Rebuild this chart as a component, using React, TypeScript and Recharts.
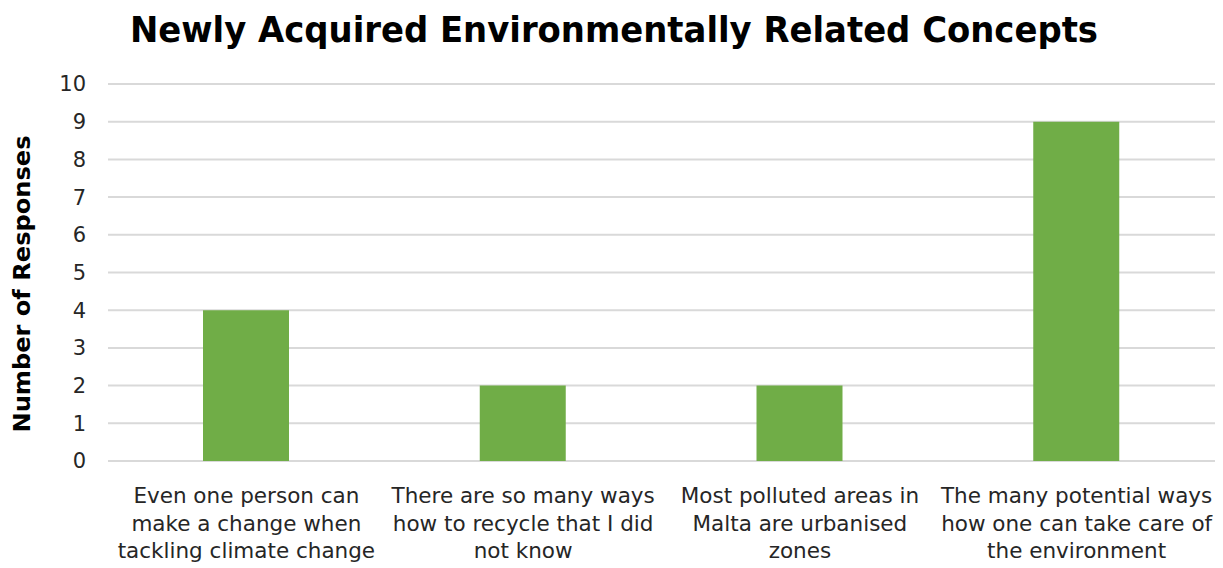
import React from "react";
import { BarChart, Bar, XAxis, YAxis, CartesianGrid } from "recharts";

const categories: string[][] = [
  ["Even one person can", "make a change when", "tackling climate change"],
  ["There are so many ways", "how to recycle that I did", "not know"],
  ["Most polluted areas in", "Malta are urbanised", "zones"],
  ["The many potential ways", "how one can take care of", "the environment"],
];
const responses: number[] = [4, 2, 2, 9];
const yTicks: number[] = [0, 1, 2, 3, 4, 5, 6, 7, 8, 9, 10];

const data = categories.map((lines, i) => ({ name: lines.join(" "), lines, value: responses[i] }));

const FONT = "Verdana, 'DejaVu Sans', sans-serif";

const CategoryTick = (props: any) => {
  const { x, y, index } = props;
  const lines = categories[index] || [];
  return (
    <g transform={`translate(${x},${y})`}>
      {lines.map((l, i) => (
        <text
          key={i}
          x={0}
          y={34 + i * 27.5}
          textAnchor="middle"
          fontFamily={FONT}
          fontSize={21.5}
          fill="#262626"
        >
          {l}
        </text>
      ))}
    </g>
  );
};

export default function App() {
  return (
    <div style={{ position: "absolute", left: 0, top: 0, width: 1223, height: 568, background: "#fff" }}>
      <svg width={1223} height={60} style={{ position: "absolute", left: 0, top: 0 }}>
        <text
          x={614}
          y={42}
          textAnchor="middle"
          fontFamily="'DejaVu Sans Condensed', 'DejaVu Sans', sans-serif"
          fontWeight="bold"
          fontSize={36}
          textLength={968}
          lengthAdjust="spacingAndGlyphs"
          fill="#000"
        >
          Newly Acquired Environmentally Related Concepts
        </text>
      </svg>
      <svg width={60} height={568} style={{ position: "absolute", left: 0, top: 0 }}>
        <text
          transform="translate(30,284) rotate(-90)"
          textAnchor="middle"
          fontFamily={FONT}
          fontWeight="bold"
          fontSize={23}
          textLength={297}
          lengthAdjust="spacingAndGlyphs"
          fill="#000"
        >
          Number of Responses
        </text>
      </svg>
      <div style={{ position: "absolute", left: 0, top: 0 }}>
        <BarChart
          width={1223}
          height={568}
          data={data}
          margin={{ top: 84, right: 8, bottom: 7, left: 48 }}
          barCategoryGap={0}
        >
          <CartesianGrid vertical={false} stroke="#d9d9d9" strokeWidth={2} />
          <XAxis
            dataKey="name"
            axisLine={false}
            tickLine={false}
            height={100}
            interval={0}
            tick={<CategoryTick />}
          />
          <YAxis
            width={60}
            domain={[0, 10]}
            ticks={yTicks}
            axisLine={false}
            tickLine={false}
            tick={{ fontFamily: FONT, fontSize: 21, fill: "#262626", dx: -14 }}
            interval={0}
          />
          <Bar dataKey="value" fill="#70ad47" barSize={86} isAnimationActive={false} />
        </BarChart>
      </div>
    </div>
  );
}
